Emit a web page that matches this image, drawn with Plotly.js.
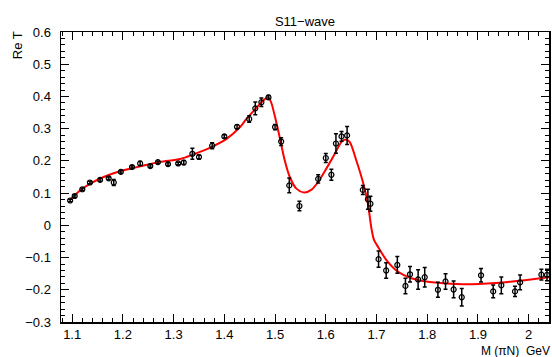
<!DOCTYPE html>
<html>
<head>
<meta charset="utf-8">
<script src="https://cdn.plot.ly/plotly-3.0.1.min.js"></script>
<style>html,body{margin:0;padding:0;background:#fff;}#chart{width:552px;height:357px;}</style>
</head>
<body>
<div id="chart"></div>
<script>
// Data points: invariant mass M (GeV) and Re T with errors
var massData = [1.096,1.105,1.120,1.135,1.155,1.172,1.182,1.196,1.218,1.234,1.254,1.269,1.289,1.309,1.320,
  1.337,1.350,1.376,1.400,1.425,1.449,1.461,1.473,1.487,1.500,1.512,1.528,1.548,1.585,1.600,1.611,1.620,1.631,1.642,
  1.673,1.683,1.688,1.704,1.719,1.741,1.757,1.766,1.782,1.795,1.821,1.836,1.852,1.868,1.906,1.930,1.946,1.973,1.983,2.025,2.036];
var reTData = [0.077,0.091,0.112,0.133,0.141,0.146,0.133,0.166,0.181,0.192,0.184,0.196,0.190,0.192,0.195,
  0.222,0.212,0.247,0.276,0.306,0.330,0.363,0.382,0.397,0.305,0.260,0.124,0.060,0.144,0.209,0.157,0.254,0.276,0.279,
  0.110,0.081,0.067,-0.105,-0.140,-0.123,-0.188,-0.152,-0.168,-0.161,-0.200,-0.174,-0.199,-0.223,-0.155,-0.205,-0.186,-0.205,-0.177,-0.153,-0.154];
var reTErr = [0.004,0.004,0.004,0.004,0.004,0.004,0.009,0.004,0.004,0.006,0.004,0.004,0.004,0.004,0.006,
  0.017,0.006,0.009,0.005,0.006,0.010,0.020,0.013,0.006,0.008,0.012,0.023,0.015,0.013,0.014,0.017,0.030,0.015,0.028,
  0.014,0.031,0.023,0.025,0.024,0.026,0.024,0.024,0.030,0.030,0.023,0.024,0.026,0.027,0.021,0.020,0.026,0.016,0.023,0.017,0.018];

// Fit curve
var curveM = [1.095,1.116,1.135,1.162,1.194,1.234,1.273,1.313,1.339,1.372,1.405,1.431,1.444,1.464,1.477,1.487,1.493,1.500,1.509,1.519,1.529,1.542,1.557,1.572,1.585,1.601,1.618,1.631,1.639,1.647,1.660,1.673,1.683,1.690,1.695,1.703,1.720,1.739,1.772,1.805,1.870,1.936,1.988,2.041];
var curveT = [0.078,0.109,0.129,0.150,0.168,0.183,0.197,0.206,0.220,0.241,0.269,0.305,0.331,0.366,0.388,0.398,0.378,0.336,0.274,0.202,0.150,0.114,0.102,0.111,0.135,0.176,0.223,0.259,0.266,0.259,0.202,0.135,0.067,-0.010,-0.045,-0.067,-0.109,-0.140,-0.166,-0.176,-0.183,-0.179,-0.171,-0.161];

var xTickVals = [1.1,1.2,1.3,1.4,1.5,1.6,1.7,1.8,1.9,2.0];
var xTickText = ['1.1','1.2','1.3','1.4','1.5','1.6','1.7','1.8','1.9','2'];
var yTickVals = [-0.3,-0.2,-0.1,0,0.1,0.2,0.3,0.4,0.5,0.6];
var yTickText = ['\u22120.3','\u22120.2','\u22120.1','0','0.1','0.2','0.3','0.4','0.5','0.6'];

var font = 'Liberation Sans, Arial, Helvetica, sans-serif';

var traces = [
  {x: curveM, y: curveT, mode: 'lines', line: {color: '#ff0000', width: 2, shape: 'spline', smoothing: 0.8}, hoverinfo: 'skip'},
  {x: massData, y: reTData, mode: 'markers',
   marker: {symbol: 'circle-open', size: 5, color: '#000', line: {width: 1.2, color: '#000'}},
   error_y: {type: 'data', array: reTErr, visible: true, color: '#000', thickness: 1.5, width: 2}}
];

var axisCommon = {
  showgrid: false, zeroline: false, showline: true, linecolor: '#000', linewidth: 1.5,
  mirror: 'allticks', ticks: 'inside', ticklen: 8, tickwidth: 1, tickcolor: '#000',
  tickfont: {family: font, size: 13, color: '#000'}
};

var layout = {
  width: 552, height: 357,
  margin: {l: 61, r: 3, t: 32, b: 35},
  paper_bgcolor: '#fff', plot_bgcolor: '#fff',
  showlegend: false,
  title: {text: 'S11\u2212wave', font: {family: font, size: 13, color: '#000'}, x: 0.5, xref: 'paper', xanchor: 'center', y: 1, yref: 'paper', yanchor: 'bottom', pad: {b: 6}},
  xaxis: Object.assign({}, axisCommon, {
    range: [1.078, 2.04], tickmode: 'array', tickvals: xTickVals, ticktext: xTickText,
    minor: {dtick: 0.02, tick0: 1.0, ticks: 'inside', ticklen: 4, tickcolor: '#000', tickwidth: 1}
  }),
  yaxis: Object.assign({}, axisCommon, {
    range: [-0.3, 0.6], tickmode: 'array', tickvals: yTickVals, ticktext: yTickText,
    ticklabelstandoff: 6,
    minor: {dtick: 0.02, tick0: 0, ticks: 'inside', ticklen: 4, tickcolor: '#000', tickwidth: 1}
  }),
  annotations: [
    {text: 'Re T', xref: 'paper', yref: 'paper', x: -0.09, y: 1.01, xanchor: 'center', yanchor: 'top',
     textangle: -90, showarrow: false, font: {family: font, size: 13, color: '#000'}},
    {text: 'M (\u03c0N)  GeV', xref: 'paper', yref: 'paper', x: (479 - 61) / 488, y: -0.07, xanchor: 'left', yanchor: 'top',
     showarrow: false, font: {family: font, size: 12, color: '#000'}}
  ]
};

Plotly.newPlot('chart', traces, layout, {displayModeBar: false, staticPlot: true});
</script>
</body>
</html>
